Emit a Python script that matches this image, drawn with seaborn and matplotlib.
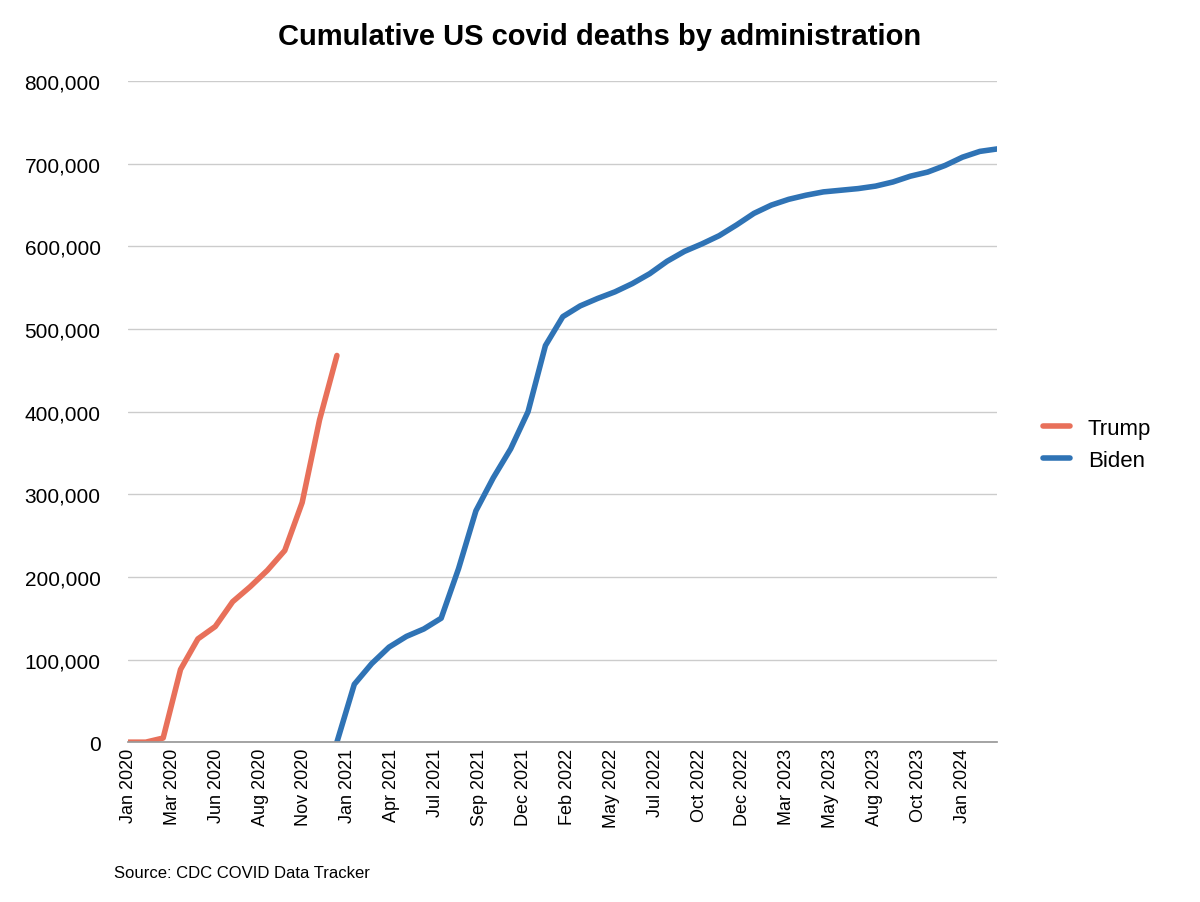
import matplotlib
matplotlib.use("Agg")
import matplotlib.pyplot as plt
import seaborn as sns
import pandas as pd
from matplotlib.ticker import FuncFormatter

sns.set_theme(style="white")
plt.rcParams['font.family'] = ['Liberation Sans', 'DejaVu Sans']
plt.rcParams['text.color'] = 'black'
plt.rcParams['xtick.color'] = 'black'
plt.rcParams['ytick.color'] = 'black'

trump_month = list(range(0, 13))
trump_vals = [0, 0, 5000, 88000, 125000, 140000, 170000, 188000, 208000, 232000, 290000, 390000, 468000]
biden_month = list(range(12, 51))
biden_vals = [0, 70000, 95000, 115000, 128000, 137000, 150000, 210000, 280000, 320000, 355000, 400000,
              480000, 515000, 528000, 537000, 545000, 555000, 567000, 582000, 594000, 603000, 613000, 626000,
              640000, 650000, 657000, 662000, 666000, 668000, 670000, 673000, 678000, 685000, 690000, 698000,
              708000, 715000, 718000]
tick_labels = ["Jan 2020", "Mar 2020", "Jun 2020", "Aug 2020", "Nov 2020", "Jan 2021", "Apr 2021",
               "Jul 2021", "Sep 2021", "Dec 2021", "Feb 2022", "May 2022", "Jul 2022", "Oct 2022",
               "Dec 2022", "Mar 2023", "May 2023", "Aug 2023", "Oct 2023", "Jan 2024"]
tick_pos = [i * 48 / (len(tick_labels) - 1) for i in range(len(tick_labels))]

df = pd.concat([
    pd.DataFrame({"month": trump_month, "deaths": trump_vals, "admin": "Trump"}),
    pd.DataFrame({"month": biden_month, "deaths": biden_vals, "admin": "Biden"}),
])

fig = plt.figure(figsize=(12, 9.03), dpi=100)
ax = fig.add_axes([0.107, 0.177, 0.724, 0.732])
sns.lineplot(data=df, x="month", y="deaths", hue="admin",
             palette={"Trump": "#E8705A", "Biden": "#2F73B5"}, linewidth=4, ax=ax,
             solid_capstyle="round", solid_joinstyle="round")
ax.set_xlim(0, 50)
ax.set_ylim(0, 800000)
ax.set_yticks(range(0, 800001, 100000))
ax.yaxis.set_major_formatter(FuncFormatter(lambda v, p: f"{int(v):,}"))
ax.set_xticks(tick_pos)
ax.set_xticklabels(tick_labels, rotation=90, fontsize=13)
ax.tick_params(axis='y', labelsize=15, length=0, pad=20)
ax.tick_params(axis='x', length=0, pad=4)
ax.grid(axis='y', color='#cccccc', linewidth=1)
for s in ax.spines.values():
    s.set_visible(False)
ax.spines['bottom'].set_visible(True)
ax.spines['bottom'].set_color('#999999')
ax.set_xlabel("")
ax.set_ylabel("")
leg = ax.legend(loc='center left', bbox_to_anchor=(1.03, 0.45), frameon=False, fontsize=16,
                handlelength=1.2)
fig.text(0.5, 0.95, "Cumulative US covid deaths by administration", ha='center', fontsize=21, fontweight='bold')
fig.text(0.095, 0.028, "Source: CDC COVID Data Tracker", fontsize=12)
fig.savefig("out.png", dpi=100)
